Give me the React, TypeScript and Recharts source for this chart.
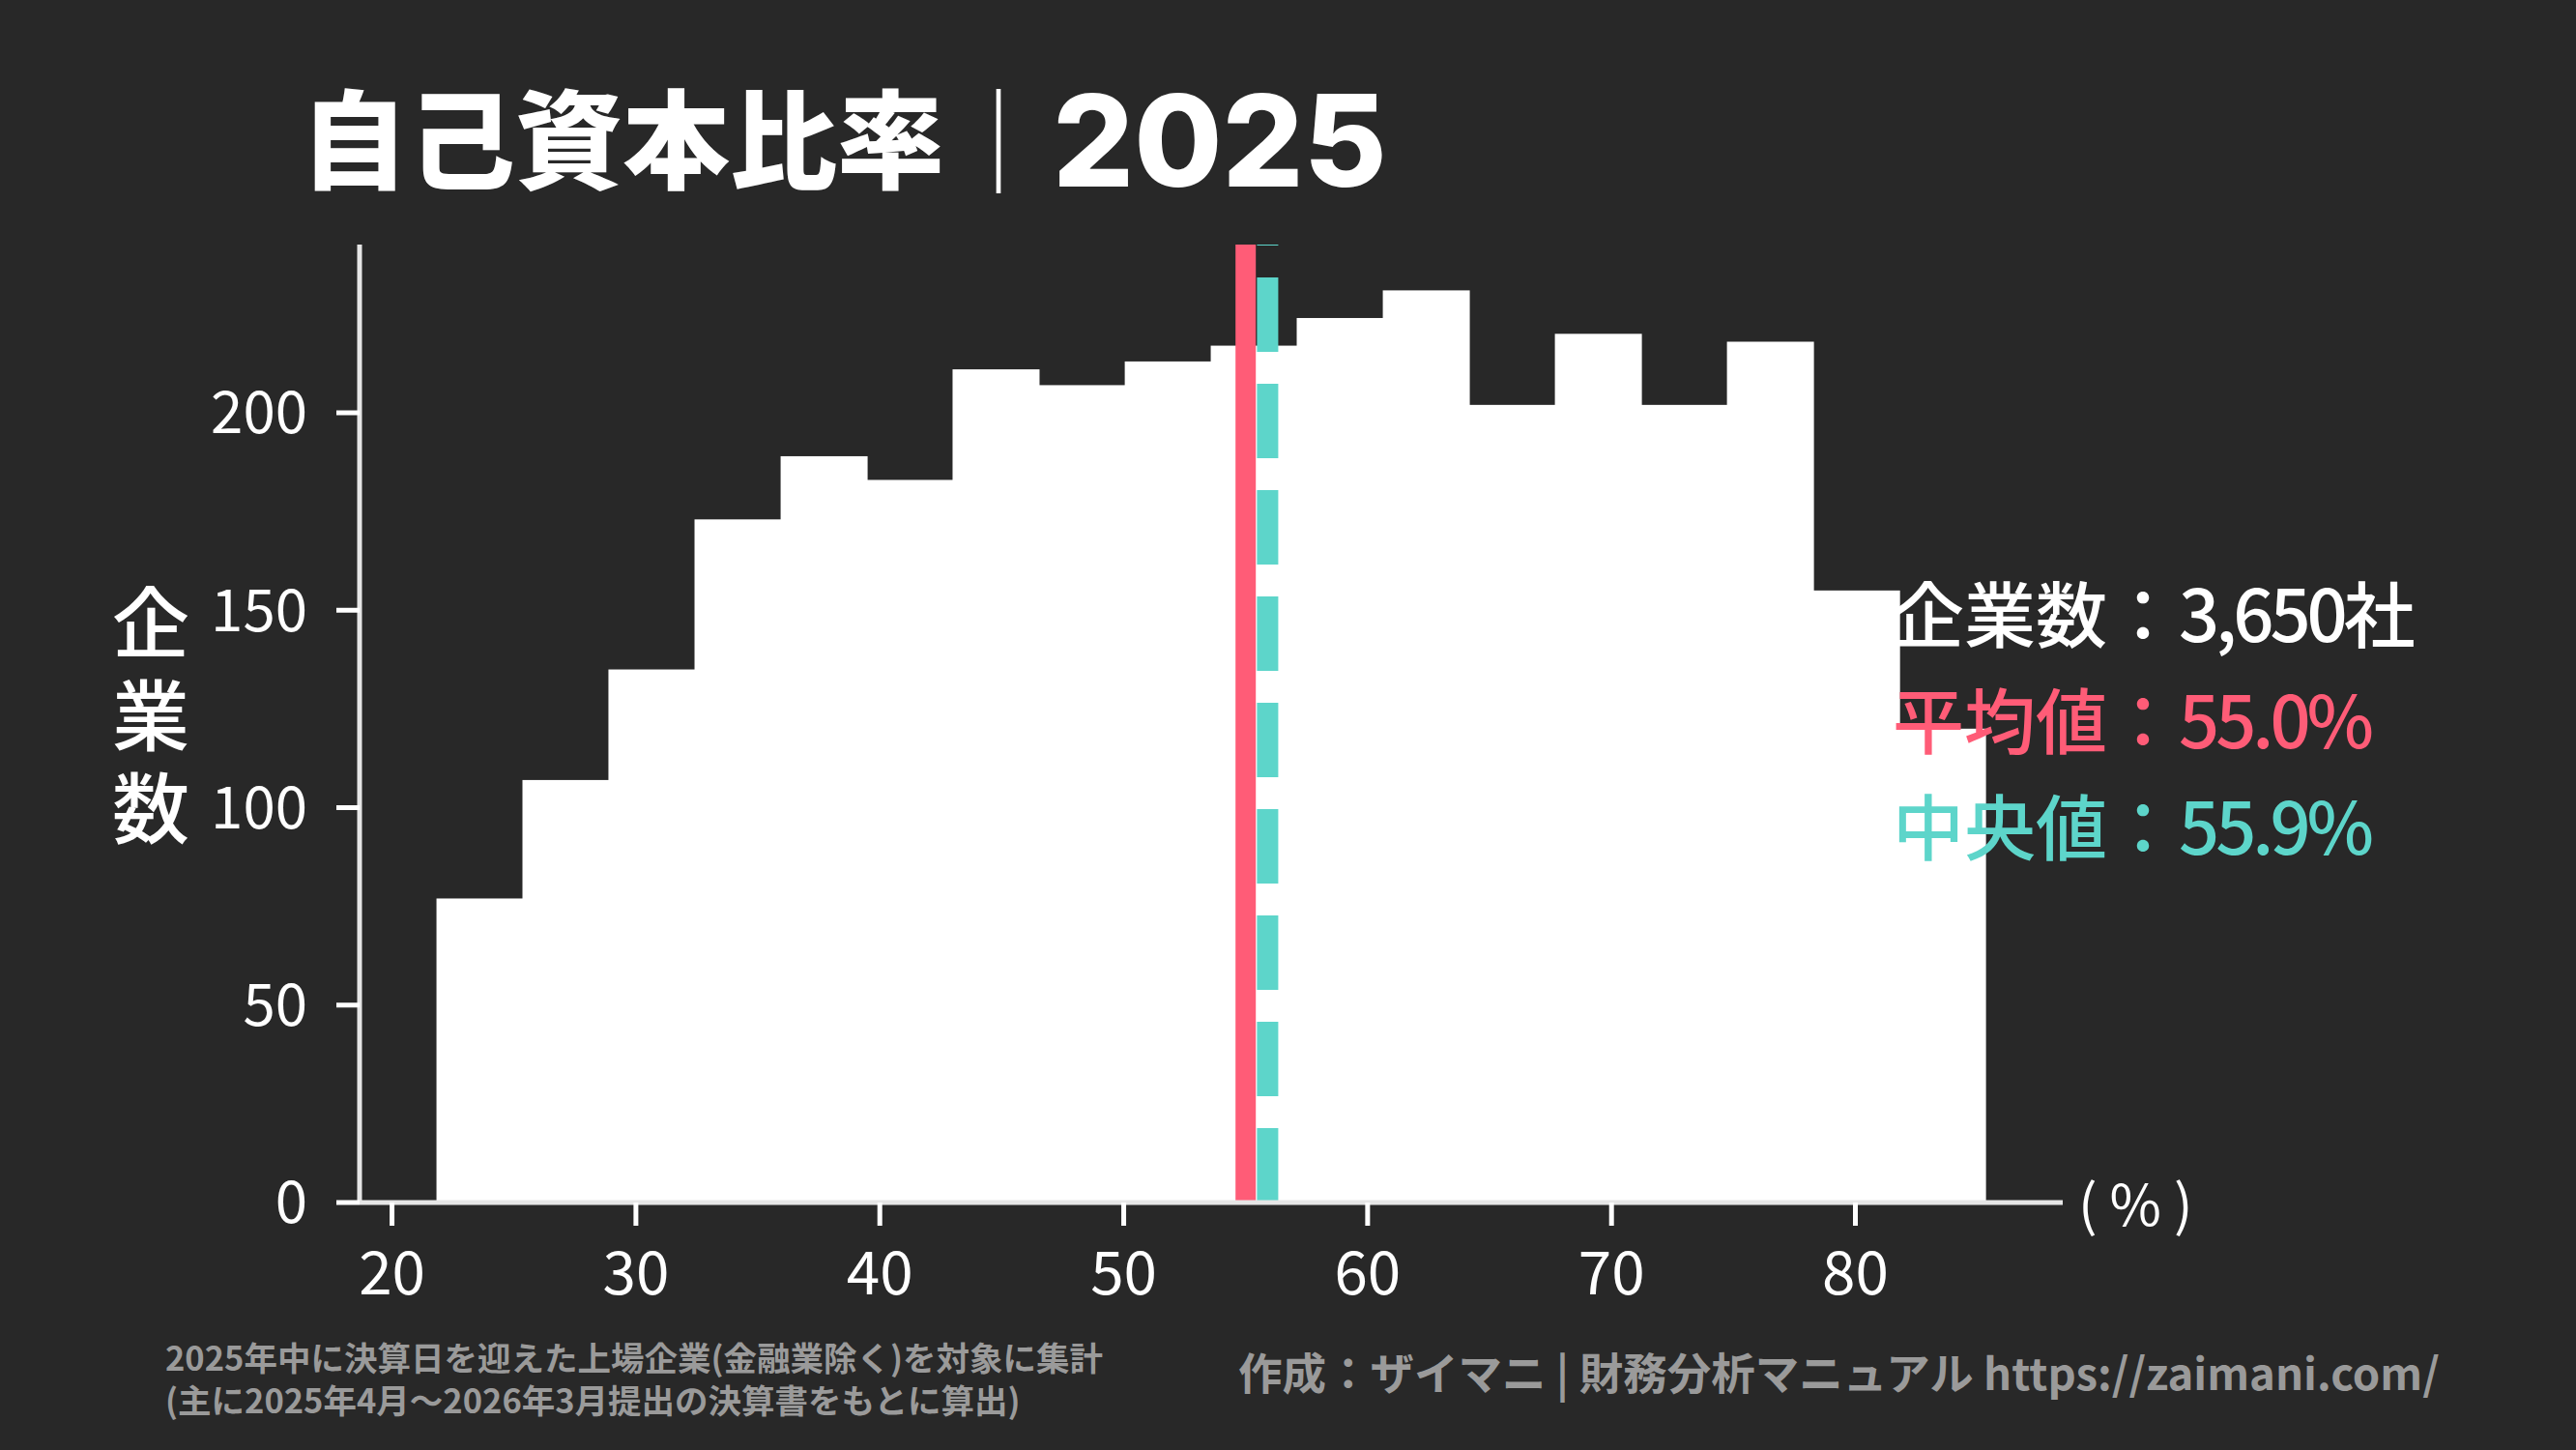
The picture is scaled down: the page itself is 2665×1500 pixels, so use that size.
import React from "react"
import { BarChart, Bar, XAxis, YAxis, ReferenceLine } from "recharts"

// histogram bins (自己資本比率 %), edges
const binEdges = [
  21.84, 25.37, 28.89, 32.42, 35.95, 39.48, 43.0, 46.53, 50.06, 53.59,
  57.11, 60.64, 64.17, 67.7, 71.22, 74.75, 78.28, 81.81, 85.33
]
const counts = [
  77, 107, 135, 173, 189, 183, 211, 207, 213, 217,
  224, 231, 202, 220, 202, 218, 155, 120
]
const xTicks = [20, 30, 40, 50, 60, 70, 80]
const yTicks = [0, 50, 100, 150, 200]
const xDomain = [18.67, 88.5]
const yDomain = [0, 242.6]

const companyCount = "3,650"
const meanRatio = 55.0
const medianRatio = 55.9

const data = counts.map((count, i) => ({
  mid: (binEdges[i] + binEdges[i + 1]) / 2,
  count
}))

const FONT = '"Noto Sans CJK JP", "Noto Sans", sans-serif'
const BG = "#282828"
const RED = "#ff5c77"
const TEAL = "#5dd5ca"
const GREY = "#9a9a9a"

const HistBar = (props: any) => {
  const { x, y, width, height } = props
  if (!height || height <= 0) return null
  return <rect x={x - 0.5} y={y} width={width + 1} height={height} fill="#ffffff" />
}

const num = { letterSpacing: -4 }

export default function App() {
  return (
    <div
      style={{
        position: "relative",
        width: 2665,
        height: 1500,
        background: BG,
        overflow: "hidden",
        fontFamily: FONT
      }}
    >
      <style>{"body{margin:0;background:#282828}"}</style>

      {/* title */}
      <div
        style={{
          position: "absolute",
          left: 311,
          top: 83,
          fontSize: 111,
          lineHeight: "111px",
          fontWeight: 900,
          color: "#fff",
          whiteSpace: "nowrap"
        }}
      >
        自己資本比率
      </div>
      <div
        style={{
          position: "absolute",
          left: 979,
          top: 86,
          fontSize: 108,
          lineHeight: "108px",
          fontWeight: 400,
          color: "#fff"
        }}
      >
        ｜
      </div>
      <div
        style={{
          position: "absolute",
          left: 1089,
          top: 79,
          fontSize: 132,
          lineHeight: "133px",
          fontWeight: 800,
          fontFamily: "Inter, sans-serif",
          color: "#fff"
        }}
      >
        2025
      </div>

      <BarChart
        width={2665}
        height={1500}
        data={data}
        margin={{ top: 253, right: 531, bottom: 106, left: 172 }}
        barCategoryGap={0}
        barGap={0}
        style={{ position: "absolute", left: 0, top: 0 }}
      >
        <XAxis
          dataKey="mid"
          type="number"
          domain={xDomain}
          ticks={xTicks}
          allowDataOverflow
          height={150}
          tickSize={24}
          tickMargin={27}
          tick={{ fill: "#fff", fontSize: 62, fontFamily: FONT }}
          tickLine={{ stroke: "#fff", strokeWidth: 5 }}
          axisLine={{ stroke: "#e6e6e6", strokeWidth: 5 }}
        />
        <YAxis
          type="number"
          domain={yDomain}
          ticks={yTicks}
          allowDataOverflow
          width={200}
          tickSize={24}
          tickMargin={30}
          tick={{ fill: "#fff", fontSize: 60, fontFamily: FONT }}
          tickLine={{ stroke: "#fff", strokeWidth: 5 }}
          axisLine={{ stroke: "#e6e6e6", strokeWidth: 5 }}
        />
        <Bar dataKey="count" fill="#ffffff" shape={<HistBar />} isAnimationActive={false} />
        <ReferenceLine x={meanRatio} stroke={RED} strokeWidth={21} />
        <ReferenceLine x={medianRatio} stroke={TEAL} strokeWidth={22} strokeDasharray="77 33" />
      </BarChart>

      {/* y axis label */}
      <div
        style={{
          position: "absolute",
          left: 116,
          top: 591,
          width: 80,
          textAlign: "center",
          fontSize: 80,
          lineHeight: "96px",
          fontWeight: 500,
          color: "#fff"
        }}
      >
        企<br />業<br />数
      </div>

      {/* x unit */}
      <div
        style={{
          position: "absolute",
          left: 2150,
          top: 1212,
          fontSize: 58,
          lineHeight: "62px",
          color: "#fff",
          whiteSpace: "pre"
        }}
      >
        ( % )
      </div>

      {/* stats */}
      <div
        style={{
          position: "absolute",
          left: 1958,
          top: 577,
          fontSize: 74,
          lineHeight: "110px",
          fontWeight: 500,
          whiteSpace: "nowrap"
        }}
      >
        <div style={{ color: "#fff" }}>
          企業数：<span style={num}>{companyCount}</span>社
        </div>
        <div style={{ color: RED }}>
          平均値：<span style={num}>{meanRatio.toFixed(1)}%</span>
        </div>
        <div style={{ color: TEAL }}>
          中央値：<span style={num}>{medianRatio.toFixed(1)}%</span>
        </div>
      </div>

      {/* footers */}
      <div
        style={{
          position: "absolute",
          left: 171,
          top: 1381,
          fontSize: 34.5,
          lineHeight: "44px",
          fontWeight: 700,
          color: GREY,
          whiteSpace: "nowrap"
        }}
      >
        <div>2025年中に決算日を迎えた上場企業(金融業除く)を対象に集計</div>
        <div>(主に2025年4月～2026年3月提出の決算書をもとに算出)</div>
      </div>
      <div
        style={{
          position: "absolute",
          left: 1281,
          top: 1392,
          fontSize: 45.5,
          lineHeight: "52px",
          fontWeight: 700,
          color: GREY,
          whiteSpace: "nowrap"
        }}
      >
        作成：ザイマニ | 財務分析マニュアル https://zaimani.com/
      </div>
    </div>
  )
}
